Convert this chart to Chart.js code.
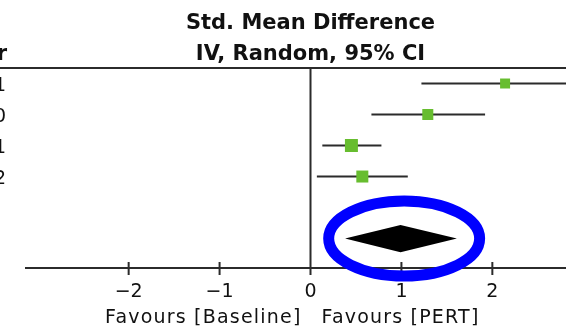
<!DOCTYPE html>
<html>
<head>
<meta charset="utf-8">
<script src="https://cdn.jsdelivr.net/npm/chart.js@4"></script>
<style>
  html,body{margin:0;padding:0;background:#fff;}
  #wrap{width:566px;height:328px;overflow:hidden;}
</style>
</head>
<body>
<div id="wrap"><canvas id="forest" width="566" height="328"></canvas></div>
<script>
// ===================== DATA =====================
const studyYears=['2011','2010','2011','2012'];
const smd=[2.14,1.29,0.45,0.57];
const ciLow=[1.22,0.67,0.13,0.07];
const ciHigh=[3.06,1.92,0.78,1.07];
const weights=[18.7,22.7,31.6,27.0];
const pooled={est:0.99,low:0.38,high:1.61};
const xTicks=[-2,-1,0,1,2];
const titleLines=['Std. Mean Difference','IV, Random, 95% CI'];
const favourLeft='Favours [Baseline]';
const favourRight='Favours [PERT]';

// ===================== STYLE =====================
const INK='#2b2b2b';
const GREEN='#67bd2f';
const FONT='"DejaVu Sans", sans-serif';
const rowY=i=>i+0.5;           // row centres in y units
const pooledRow=5.5;

// ===================== DECOR PLUGIN =====================
const forestDecor={
  id:'forestDecor',
  beforeDatasetsDraw(chart){
    const {ctx,chartArea:a,scales:{x}}=chart;
    const W=chart.width;
    const x0=x.getPixelForValue(0);
    ctx.save();
    ctx.strokeStyle=INK;ctx.lineWidth=2;
    // header rule, zero line, axis
    ctx.beginPath();
    ctx.moveTo(0,a.top);ctx.lineTo(W,a.top);
    ctx.moveTo(x0,a.top);ctx.lineTo(x0,a.bottom);
    ctx.moveTo(a.left,a.bottom);ctx.lineTo(a.right,a.bottom);
    xTicks.forEach(t=>{const px=x.getPixelForValue(t);ctx.moveTo(px,a.bottom-6);ctx.lineTo(px,a.bottom+7);});
    ctx.stroke();

    ctx.fillStyle='#111';
    // title
    ctx.font='bold 21px '+FONT;ctx.textAlign='center';ctx.textBaseline='alphabetic';
    ctx.fillText(titleLines[0],x0,29);
    ctx.fillText(titleLines[1],x0,60);
    // cut-off Year column
    ctx.textAlign='right';
    ctx.fillText('Year',7,60);
    ctx.font='19px '+FONT;
    studyYears.forEach((yr,i)=>ctx.fillText(yr,6,chart.scales.y.getPixelForValue(rowY(i))+7));
    // tick labels
    ctx.font='19px '+FONT;ctx.textAlign='center';
    xTicks.forEach(t=>ctx.fillText(t<0?'\u2212'+Math.abs(t):String(t),x.getPixelForValue(t),297));
    // favours labels
    ctx.letterSpacing='1.2px';
    ctx.textAlign='right';ctx.fillText(favourLeft,x0-9,323);
    ctx.textAlign='left';ctx.fillText(favourRight,x0+11,323);
    ctx.restore();
  },
  afterDatasetsDraw(chart){
    const {ctx,scales:{x,y}}=chart;
    const yc=y.getPixelForValue(pooledRow);
    const half=y.getPixelForValue(pooledRow+0.44)-yc;
    ctx.save();
    // pooled diamond
    ctx.fillStyle='#000';
    ctx.beginPath();
    ctx.moveTo(x.getPixelForValue(pooled.low),yc);
    ctx.lineTo(x.getPixelForValue(pooled.est),yc-half);
    ctx.lineTo(x.getPixelForValue(pooled.high),yc);
    ctx.lineTo(x.getPixelForValue(pooled.est),yc+half);
    ctx.closePath();ctx.fill();
    // blue highlight ring around the pooled estimate
    const cx=x.getPixelForValue(pooled.est+0.04);
    const rx=x.getPixelForValue(pooled.est+0.87)-x.getPixelForValue(pooled.est+0.04);
    const ry=y.getPixelForValue(pooledRow+1.21)-yc;
    ctx.strokeStyle='#0000ff';ctx.lineWidth=11;
    ctx.beginPath();ctx.ellipse(cx,yc,rx,ry,0,0,Math.PI*2);ctx.stroke();
    ctx.restore();
  }
};

// ===================== DATASETS =====================
const ciSets=smd.map((v,i)=>({
  type:'scatter',showLine:true,
  data:[{x:ciLow[i],y:rowY(i)},{x:ciHigh[i],y:rowY(i)}],
  borderColor:INK,borderWidth:2,pointRadius:0,order:2
}));
const squareSet={
  type:'scatter',
  data:smd.map((v,i)=>({x:v,y:rowY(i)})),
  pointStyle:'rect',
  pointRadius:weights.map(w=>Math.sqrt(w)*2.31/Math.SQRT2),
  backgroundColor:GREEN,borderColor:GREEN,borderWidth:0,order:1
};

new Chart(document.getElementById('forest').getContext('2d'),{
  type:'scatter',
  data:{datasets:[squareSet,...ciSets]},
  options:{
    responsive:false,animation:false,devicePixelRatio:1,
    layout:{autoPadding:false,padding:{left:25,right:0,top:68,bottom:60}},
    plugins:{legend:{display:false},tooltip:{enabled:false}},
    scales:{
      x:{type:'linear',min:-3.14,max:2.81,display:false},
      y:{type:'linear',min:0,max:6.45,reverse:true,display:false}
    }
  },
  plugins:[forestDecor]
});
</script>
</body>
</html>
